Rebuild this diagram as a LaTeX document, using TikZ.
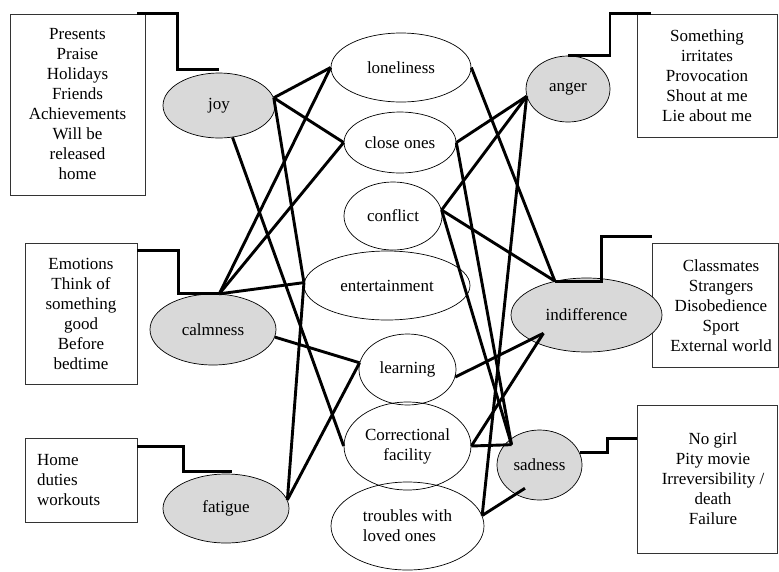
\documentclass[tikz,border=0pt]{standalone}
\usepackage{fontspec}
\setmainfont{Liberation Serif}
\usetikzlibrary{shapes.geometric,calc}
\begin{document}
\begin{tikzpicture}[x=1pt,y=-1pt,
  every node/.style={font=\fontsize{17}{20}\selectfont},
  infobox/.style={draw=black!80, line width=0.8pt, rectangle, inner sep=0pt},
  emo/.style={ellipse, draw, line width=0.7pt, fill=black!15, inner sep=0pt},
  sit/.style={ellipse, draw, line width=0.7pt, inner sep=0pt, align=center},
  conn/.style={line width=2.9pt},
  bracket/.style={line width=2.9pt}]
\useasboundingbox (0,0) rectangle (779,571);

% boxes
\node[infobox, minimum width=135pt, minimum height=181pt, align=center] (b1) at (77.5,104.5)
  {Presents\\Praise\\Holidays\\Friends\\Achievements\\Will be\\released\\home};
\node[infobox, minimum width=112pt, minimum height=141pt, align=center] (b2) at (81,313.5)
  {Emotions\\Think of\\something\\good\\Before\\bedtime};
\node[infobox, minimum width=112pt, minimum height=84pt, text width=88pt, inner xsep=12pt, align=left] (b3) at (81,480)
  {Home\\duties\\workouts};
\node[infobox, minimum width=140pt, minimum height=123pt, align=center] (ab) at (707,75.5)
  {Something\\irritates\\Provocation\\Shout at me\\Lie about me};
\node[infobox, minimum width=126pt, minimum height=124pt] (ib) at (715,305) {};
\node[infobox, minimum width=140pt, minimum height=148pt] (sb) at (707,479) {};

% emotions
\node[emo, minimum width=112pt, minimum height=65pt] (joy) at (219,105.5) {joy};
\node[emo, minimum width=126pt, minimum height=71pt] (calm) at (213,329.5) {calmness};
\node[emo, minimum width=126pt, minimum height=69pt] (fat) at (226,508.5) {fatigue};
\node[emo, minimum width=84pt, minimum height=66pt] (anger) at (568,89) {anger};
\node[emo, minimum width=151pt, minimum height=74pt] (indiff) at (586.5,315) {indifference};
\node[emo, minimum width=85pt, minimum height=70pt] (sad) at (539.5,465) {sadness};

\node[align=center] (ibt) at (721,306) {Classmates\\Strangers\\Disobedience\\Sport\\External world};
\node[align=center] (sbt) at (713,479) {No girl\\Pity movie\\Irreversibility /\\death\\Failure};

% situations
\node[sit, minimum width=140pt, minimum height=69pt] (lone) at (401,67.5) {loneliness};
\node[sit, minimum width=112pt, minimum height=61pt] (close) at (400,142.5) {close ones};
\node[sit, minimum width=98pt, minimum height=68pt] (confl) at (393,216) {conflict};
\node[sit, minimum width=166pt, minimum height=69pt] (ent) at (387,285.5) {entertainment};
\node[sit, minimum width=97pt, minimum height=71pt] (learn) at (407.5,369.5) {learning};
\node[sit, minimum width=127pt, minimum height=88pt] (corr) at (407.5,446) {Correctional\\facility};
\node[sit, minimum width=153pt, minimum height=88pt, align=left] (troub) at (407.5,526) {troubles with\\loved ones};

% box connectors
\draw[bracket] ([xshift=-8pt]b1.north east) -- ++(40,0) |- ([yshift=3pt]joy.north);
\draw[bracket] ([yshift=-8pt]b2.north east) -- ++(41,0) |- (calm.80);
\draw[bracket] ([yshift=-9pt]b3.north east) -- ++(46,0) |- ([xshift=6pt,yshift=2pt]fat.north);
\draw[bracket] (anger.north) -- ++(42,0) |- ([xshift=14pt]ab.north west);
\draw[bracket] (indiff.133) -- ++(47,0) |- ([yshift=6pt]ib.north west);
\draw[bracket] (sad.17) -- ++(28,0) |- ([yshift=-34pt]sb.north west);

% left connectors
\draw[conn] (joy.8) -- (lone.west);
\draw[conn] (joy.8) -- (close.west);
\draw[conn] (joy.8) -- (ent.178);
\draw[conn] (joy.293) -- (corr.west);
\draw[conn] (calm.80) -- (lone.west);
\draw[conn] (calm.80) -- (close.west);
\draw[conn] (calm.80) -- (ent.178);
\draw[conn] (calm.353) -- (learn.172);
\draw[conn] (fat.8) -- (ent.178);
\draw[conn] (fat.8) -- (learn.172);

% right connectors
\draw[conn] (anger.190) -- (close.east);
\draw[conn] (anger.190) -- (confl.7);
\draw[conn] (anger.190) -- (troub.8);
\draw[conn] (indiff.133) -- (lone.east);
\draw[conn] (indiff.133) -- (confl.7);
\coordinate (indin) at ($(indiff.center)!0.75!(indiff.203)$);
\draw[conn] (indin) -- (learn.351);
\draw[conn] (indin) -- (corr.east);
\coordinate (sadin) at ($(sad.center)!0.87!(sad.144)$);
\draw[conn] (sadin) -- (close.east);
\draw[conn] (sadin) -- (confl.7);
\draw[conn] (sadin) -- (corr.east);
\coordinate (sadlow) at ($(sad.center)!0.74!(sad.238)$);
\draw[conn] (sadlow) -- (troub.8);
\end{tikzpicture}
\end{document}
